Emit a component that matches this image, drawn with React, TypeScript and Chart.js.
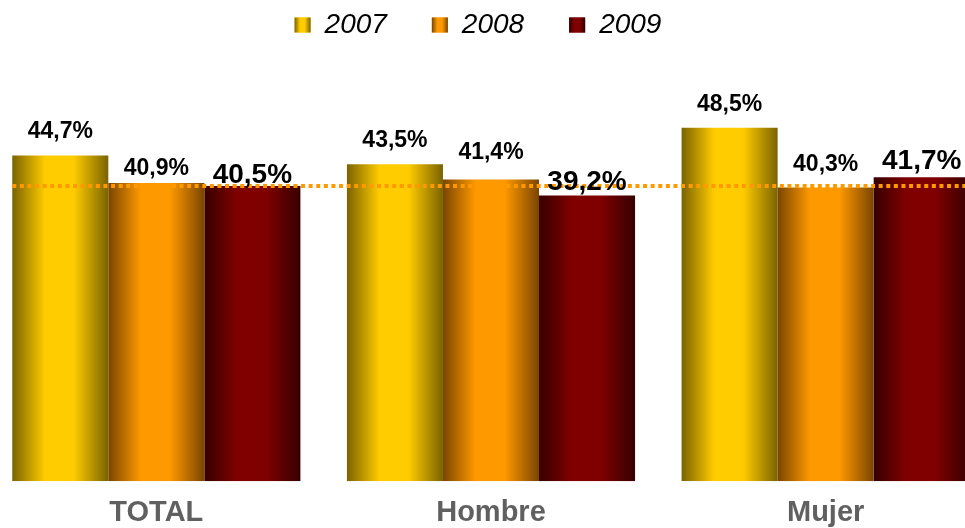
import React, { useEffect, useRef } from "react";
import { Chart, registerables } from "chart.js";

Chart.register(...registerables);

// ---- data ----
const categories = ["TOTAL", "Hombre", "Mujer"];
const seriesNames = ["2007", "2008", "2009"];
const values2007 = [44.7, 43.5, 48.5];
const values2008 = [40.9, 41.4, 40.3];
const values2009 = [40.5, 39.2, 41.7];
const referenceValue = 40.5;

// ---- styles ----
const palette = [
  { edge: "#7a6300", mid: "#ffcc00" },
  { edge: "#7a4500", mid: "#ff9900" },
  { edge: "#360000", mid: "#800000" },
];
const labelFontSizes = [23, 23, 28];
const labelGaps = [
  [17, 17, 17],
  [8, 20, 16],
  [3, 5, 8],
];
const CAT_PCT = 0.861;
const FONT = "'Liberation Sans', Arial, sans-serif";
const LEGEND_BOX_W = 16;
const LEGEND_BOX_H = 15;

const formatPct = (v: number) => v.toFixed(1).replace(".", ",") + "%";

const hGradient = (c: CanvasRenderingContext2D, left: number, width: number, di: number) => {
  const p = palette[di];
  const g = c.createLinearGradient(left, 0, left + width, 0);
  g.addColorStop(0, p.edge);
  g.addColorStop(0.34, p.mid);
  g.addColorStop(0.64, p.mid);
  g.addColorStop(1, p.edge);
  return g;
};

const makeBg = (dsIndex: number) => (ctx: any) => {
  const chart = ctx.chart;
  const xs = chart.scales?.x;
  if (!xs || ctx.type !== "data" || !xs.width) return palette[dsIndex].mid;
  const catW = xs.width / categories.length;
  const groupW = catW * CAT_PCT;
  const barW = groupW / seriesNames.length;
  const center = xs.getPixelForValue(ctx.dataIndex);
  const left = center - groupW / 2 + dsIndex * barW;
  return hGradient(chart.ctx, left, barW, dsIndex);
};

const overlayPlugin = {
  id: "overlay",
  afterLayout(chart: any) {
    if (chart.legend) {
      chart.legend.left -= 13;
      chart.legend.right -= 13;
    }
  },
  afterDatasetsDraw(chart: any) {
    const ctx = chart.ctx;
    const ys = chart.scales.y;
    const area = chart.chartArea;
    const first = chart.getDatasetMeta(0).data[0];
    // dotted reference line
    const yRef = Math.round(ys.getPixelForValue(referenceValue));
    ctx.save();
    ctx.strokeStyle = "#ff9900";
    ctx.lineWidth = 4;
    ctx.setLineDash([4, 3.6]);
    ctx.beginPath();
    ctx.moveTo(first.x - first.width / 2, yRef);
    ctx.lineTo(area.right, yRef);
    ctx.stroke();
    ctx.restore();
    // value labels
    ctx.save();
    ctx.fillStyle = "#000000";
    ctx.textAlign = "center";
    ctx.textBaseline = "alphabetic";
    chart.data.datasets.forEach((ds: any, di: number) => {
      const meta = chart.getDatasetMeta(di);
      ctx.font = `bold ${labelFontSizes[di]}px ${FONT}`;
      meta.data.forEach((el: any, i: number) => {
        ctx.fillText(formatPct(ds.data[i]), el.x, el.y - labelGaps[di][i]);
      });
    });
    ctx.restore();
  },
  afterDraw(chart: any) {
    // gradient legend swatches matching the bars
    const legend = chart.legend;
    if (!legend || !legend.legendHitBoxes) return;
    const ctx = chart.ctx;
    ctx.save();
    legend.legendHitBoxes.forEach((hb: any, i: number) => {
      const top = hb.top + (hb.height - LEGEND_BOX_H) / 2;
      ctx.fillStyle = hGradient(ctx, hb.left, LEGEND_BOX_W, i);
      ctx.fillRect(hb.left, top, LEGEND_BOX_W, LEGEND_BOX_H);
    });
    ctx.restore();
  },
};

export default function App() {
  const ref = useRef<HTMLCanvasElement | null>(null);
  useEffect(() => {
    if (!ref.current) return;
    const series = [values2007, values2008, values2009];
    const chart = new Chart(ref.current, {
      type: "bar",
      data: {
        labels: categories,
        datasets: seriesNames.map((name, i) => ({
          label: name,
          data: series[i],
          backgroundColor: makeBg(i),
          borderWidth: 0,
          categoryPercentage: CAT_PCT,
          barPercentage: 1.0,
        })),
      },
      options: {
        animation: false,
        responsive: true,
        maintainAspectRatio: false,
        layout: { padding: 0 },
        plugins: {
          tooltip: { enabled: false },
          legend: {
            display: true,
            position: "top",
            labels: {
              boxWidth: LEGEND_BOX_W,
              boxHeight: LEGEND_BOX_H,
              padding: 45,
              color: "#000000",
              font: { family: FONT, size: 28, style: "italic" },
              generateLabels: () =>
                seriesNames.map((name, i) => ({
                  text: name,
                  fillStyle: palette[i].mid,
                  strokeStyle: palette[i].mid,
                  lineWidth: 0,
                  hidden: false,
                  datasetIndex: i,
                })),
            },
          },
        },
        scales: {
          x: {
            grid: { display: false, drawTicks: false },
            border: { display: false },
            ticks: {
              color: "#606060",
              padding: 14,
              font: { family: FONT, size: 29, weight: "bold" },
            },
          },
          y: {
            display: false,
            min: 0,
            max: 59.3,
          },
        },
      },
      plugins: [overlayPlugin],
    });
    return () => chart.destroy();
  }, []);
  return (
    <div
      style={{
        position: "fixed",
        left: 0,
        top: 0,
        width: 965,
        height: 528,
        overflow: "hidden",
        background: "#ffffff",
      }}
    >
      <div style={{ position: "absolute", left: -11, top: -34, width: 1004, height: 578 }}>
        <canvas ref={ref} />
      </div>
    </div>
  );
}
